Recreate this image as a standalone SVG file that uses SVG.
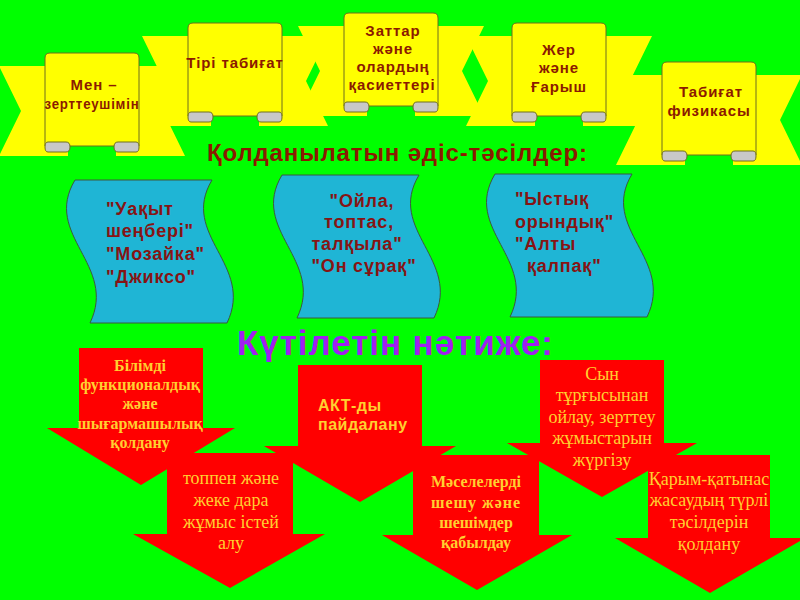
<svg xmlns="http://www.w3.org/2000/svg" width="800" height="600" viewBox="0 0 800 600">
<style>
.tail{fill:#FFFF00;stroke:none}
.band{fill:#FFFF00;stroke:#6E6E1E;stroke-width:1}
.curl{fill:#C8C8C8;stroke:#6E6E1E;stroke-width:1}
.rt{font-family:"Liberation Sans",Arial,sans-serif;font-weight:bold;font-size:15px;fill:#8B1A00;text-anchor:middle;letter-spacing:0.9px}
.title{font-family:"Liberation Sans",Arial,sans-serif;font-weight:bold;font-size:24px;fill:#8B1A00}
.title2{font-family:"Liberation Sans",Arial,sans-serif;font-weight:bold;font-size:35px;fill:#A020F0}
.scroll{fill:#1FB5D5;stroke:#3C5A3C;stroke-width:1}
.st{font-family:"Liberation Sans",Arial,sans-serif;font-weight:bold;font-size:18px;fill:#861414;letter-spacing:0.8px}
.arrow{fill:#FF0000;stroke:none}
.ts{font-family:"Liberation Serif","Times New Roman",serif;font-size:18px;fill:#FFD030;text-anchor:middle}
.tsb{font-family:"Liberation Serif","Times New Roman",serif;font-weight:bold;font-size:16px;fill:#FFD030;text-anchor:middle}
.as{font-family:"Liberation Sans",Arial,sans-serif;font-weight:bold;font-size:16px;fill:#FFD030;letter-spacing:0.5px}
</style>
<defs>
<g id="ribbonShape">
<polygon class="tail" points="-46,13 23,13 23,103 -46,103 -24,58"/>
<polygon class="tail" points="71,13 140,13 118,58 140,103 71,103"/>
<path class="band" d="M0,5 Q0,0 5,0 L89,0 Q94,0 94,5 L94,93 L0,93 Z"/>
<path class="curl" d="M3,89 L21,89 Q25,89 25,94 Q25,99 21,99 L3,99 Q0,99 0,94 Q0,89 3,89 Z"/>
<path class="curl" d="M73,89 L91,89 Q94,89 94,94 Q94,99 91,99 L73,99 Q69,99 69,94 Q69,89 73,89 Z"/>
</g>
<path id="scrollShape" class="scroll" d="M0,0 L137,0 C104,55 180,85 152,143 L15,143 C43,85 -33,55 0,0 Z"/>
</defs>
<rect x="0" y="0" width="800" height="600" fill="#00FF00"/>

<g id="ribbon1">
<use href="#ribbonShape" transform="translate(45,53)"/>
<text class="rt" x="94" y="90">Мен –</text>
<text class="rt" x="92" y="109" letter-spacing="0" textLength="95" lengthAdjust="spacingAndGlyphs">зерттеушімін</text>
</g>
<g id="ribbon2">
<use href="#ribbonShape" transform="translate(188,23)"/>
<text class="rt" x="235" y="68" letter-spacing="0.3">Тірі табиғат</text>
</g>
<g id="ribbon3">
<use href="#ribbonShape" transform="translate(344,13)"/>
<text class="rt" x="393" y="36">Заттар</text>
<text class="rt" x="393" y="54">және</text>
<text class="rt" x="393" y="72">олардың</text>
<text class="rt" x="392" y="90">қасиеттері</text>
</g>
<g id="ribbon4">
<use href="#ribbonShape" transform="translate(512,23)"/>
<text class="rt" x="559" y="55">Жер</text>
<text class="rt" x="559" y="73">және</text>
<text class="rt" x="559" y="92">Ғарыш</text>
</g>
<g id="ribbon5">
<use href="#ribbonShape" transform="translate(662,62)"/>
<text class="rt" x="711" y="97">Табиғат</text>
<text class="rt" x="709" y="116">физикасы</text>
</g>

<g id="title1">
<text class="title" x="207" y="161" textLength="380" lengthAdjust="spacing">Қолданылатын әдіс-тәсілдер:</text>
</g>

<g id="scroll1">
<use href="#scrollShape" transform="translate(75,180)"/>
<text class="st" x="106" y="215">"Уақыт</text>
<text class="st" x="106" y="237">шеңбері"</text>
<text class="st" x="106" y="260">"Мозайка"</text>
<text class="st" x="106" y="283">"Джиксо"</text>
</g>
<g id="scroll2">
<use href="#scrollShape" transform="translate(282,175)"/>
<text class="st" x="362" y="207" text-anchor="middle">"Ойла,</text>
<text class="st" x="359" y="228" text-anchor="middle">топтас,</text>
<text class="st" x="357" y="250" text-anchor="middle">талқыла"</text>
<text class="st" x="364" y="272" text-anchor="middle">"Он сұрақ"</text>
</g>
<g id="scroll3">
<use href="#scrollShape" transform="translate(495,174)"/>
<text class="st" x="515" y="205">"Ыстық</text>
<text class="st" x="515" y="228">орындық"</text>
<text class="st" x="515" y="250">"Алты</text>
<text class="st" x="527" y="272">қалпақ"</text>
</g>

<g id="title2">
<text class="title2" x="237" y="355" textLength="316" lengthAdjust="spacing">Күтілетін нәтиже:</text>
</g>

<g id="arrow1">
<polygon class="arrow" points="79,348 203,348 203,428 235,428 141,485 47,428 79,428"/>
<text class="tsb" x="140" y="371">Білімді</text>
<text class="tsb" x="140" y="390">функционалдық</text>
<text class="tsb" x="140" y="409">және</text>
<text class="tsb" x="140" y="429">шығармашылық</text>
<text class="tsb" x="140" y="448">қолдану</text>
</g>
<g id="arrow2">
<polygon class="arrow" points="298,365 422,365 422,446 456,446 360,502 264,446 298,446"/>
<text class="as" x="318" y="411">АКТ-ды</text>
<text class="as" x="318" y="430">пайдалану</text>
</g>
<g id="arrow3">
<polygon class="arrow" points="540,360 664,360 664,443 697,443 602,497 507,443 540,443"/>
<text class="ts" x="602" y="380">Сын</text>
<text class="ts" x="602" y="401">тұрғысынан</text>
<text class="ts" x="602" y="423">ойлау, зерттеу</text>
<text class="ts" x="602" y="444">жұмыстарын</text>
<text class="ts" x="602" y="466">жүргізу</text>
</g>
<g id="arrow4">
<polygon class="arrow" points="167,453 293,453 293,534 325,534 230,588 133,534 167,534"/>
<text class="ts" x="231" y="484" font-size="19">топпен және</text>
<text class="ts" x="231" y="506" font-size="19">жеке дара</text>
<text class="ts" x="231" y="528" font-size="19">жұмыс істей</text>
<text class="ts" x="231" y="549" font-size="19">алу</text>
</g>
<g id="arrow5">
<polygon class="arrow" points="413,455 539,455 539,535 572,535 477,590 382,535 413,535"/>
<text class="tsb" x="476" y="487" font-size="18">Мәселелерді</text>
<text class="tsb" x="476" y="508" font-size="18" letter-spacing="1">шешу және</text>
<text class="tsb" x="476" y="528" font-size="18">шешімдер</text>
<text class="tsb" x="476" y="548" font-size="18">қабылдау</text>
</g>
<g id="arrow6">
<polygon class="arrow" points="648,455 770,455 770,538 805,538 710,593 615,538 648,538"/>
<text class="ts" x="709" y="485">Қарым-қатынас</text>
<text class="ts" x="709" y="506">жасаудың түрлі</text>
<text class="ts" x="709" y="528">тәсілдерін</text>
<text class="ts" x="709" y="550">қолдану</text>
</g>
<g id="connectors"/>
</svg>
